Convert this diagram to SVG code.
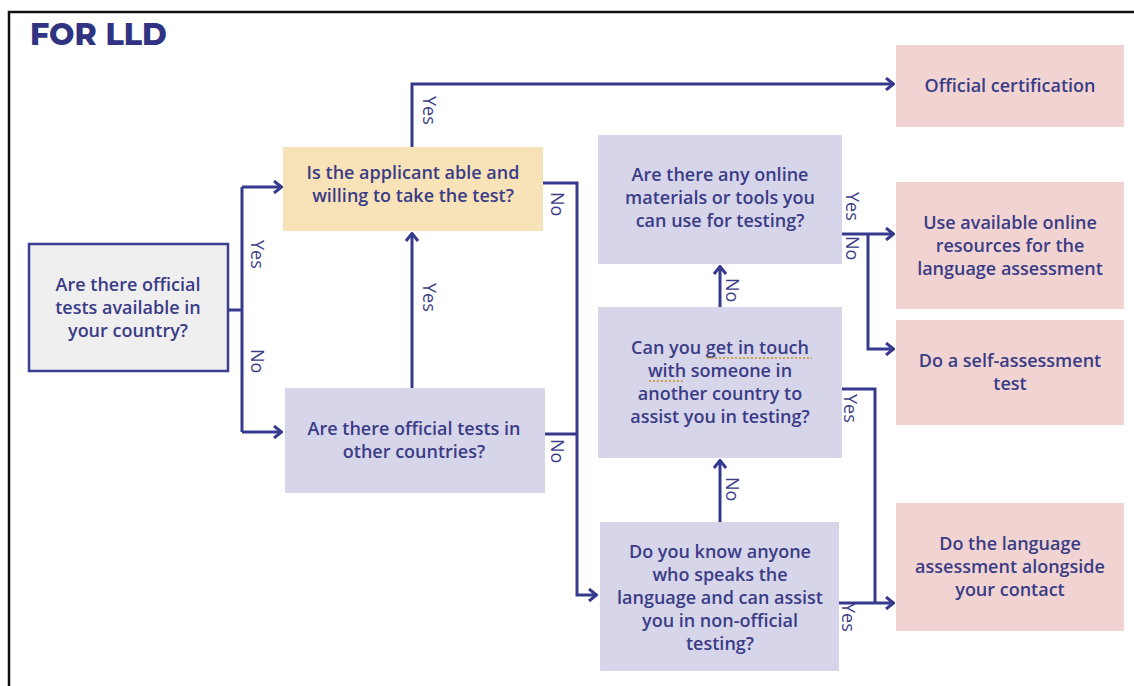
<svg xmlns="http://www.w3.org/2000/svg" width="1134" height="686" viewBox="0 0 1134 686">
<defs>
<style>
.t{font-family:"Open Sans","Liberation Sans",sans-serif;font-weight:600;font-size:18px;fill:#3a3c86;text-anchor:middle}
.lbl{font-family:"Open Sans","Liberation Sans",sans-serif;font-size:18px;fill:#3a3c86}
.c{fill:none;stroke:#363a8e;stroke-width:3}
.q{fill:#d7d5ea}
.r{fill:#f1d4d2}
.sp{stroke:#c9902a;stroke-width:1.5;stroke-dasharray:2 2}
</style>
<marker id="a" viewBox="0 0 12 14" refX="11" refY="7" markerWidth="12" markerHeight="14" markerUnits="userSpaceOnUse" orient="auto">
<path d="M3 1 L10.5 7 L3 13" fill="none" stroke="#363a8e" stroke-width="3"/>
</marker>
</defs>
<rect width="1134" height="686" fill="#fff"/>
<path d="M9 686 V12 H1134" fill="none" stroke="#111" stroke-width="2.5"/>
<text x="30" y="45" font-family="Montserrat,'Open Sans','Liberation Sans',sans-serif" font-weight="800" font-size="30" fill="#2f3381">FOR LLD</text>

<g id="connectors">
<path class="c" d="M229 310 H242"/>
<path class="c" d="M242 187 V432"/>
<path class="c" d="M242 187 H282" marker-end="url(#a)"/>
<path class="c" d="M242 432 H282" marker-end="url(#a)"/>
<path class="c" d="M412 147 V84 H894" marker-end="url(#a)"/>
<path class="c" d="M412 388 V233" marker-end="url(#a)"/>
<path class="c" d="M543 183 H577 V595 H597" marker-end="url(#a)"/>
<path class="c" d="M545 434 H577"/>
<path class="c" d="M720 522 V460" marker-end="url(#a)"/>
<path class="c" d="M720 307 V266" marker-end="url(#a)"/>
<path class="c" d="M842 234 H894" marker-end="url(#a)"/>
<path class="c" d="M868 234 V349 H894" marker-end="url(#a)"/>
<path class="c" d="M842 389 H875 V603"/>
<path class="c" d="M839 603 H894" marker-end="url(#a)"/>
<g class="lbl">
<text transform="translate(251,240) rotate(90)">Yes</text>
<text transform="translate(251,349) rotate(90)">No</text>
<text transform="translate(423,96) rotate(90)">Yes</text>
<text transform="translate(423,283) rotate(90)">Yes</text>
<text transform="translate(551,192) rotate(90)">No</text>
<text transform="translate(551,439) rotate(90)">No</text>
<text transform="translate(726,278) rotate(90)">No</text>
<text transform="translate(726,477) rotate(90)">No</text>
<text transform="translate(846,192) rotate(90)">Yes</text>
<text transform="translate(846,236) rotate(90)">No</text>
<text transform="translate(844,394) rotate(90)">Yes</text>
<text transform="translate(842,603) rotate(90)">Yes</text>
</g>
</g>

<g id="n-country">
<rect x="29" y="244" width="199" height="127" fill="#efeff0" stroke="#3b3f8f" stroke-width="2.5"/>
<text class="t"><tspan x="128" y="291">Are there official</tspan><tspan x="128" y="314">tests available in</tspan><tspan x="128" y="337">your country?</tspan></text>
</g>

<g id="n-able">
<rect x="283" y="147" width="260" height="84" fill="#f8e3b8"/>
<text class="t"><tspan x="413" y="179">Is the applicant able and</tspan><tspan x="413" y="202">willing to take the test?</tspan></text>
</g>

<g id="n-other">
<rect x="285" y="388" width="260" height="105" class="q"/>
<text class="t"><tspan x="414" y="435">Are there official tests in</tspan><tspan x="414" y="458">other countries?</tspan></text>
</g>

<g id="n-online">
<rect x="598" y="135" width="244" height="129" class="q"/>
<text class="t"><tspan x="720" y="181">Are there any online</tspan><tspan x="720" y="204">materials or tools you</tspan><tspan x="720" y="227">can use for testing?</tspan></text>
</g>

<g id="n-touch">
<rect x="598" y="307" width="244" height="151" class="q"/>
<text class="t"><tspan x="720" y="354">Can you get in touch</tspan><tspan x="720" y="377">with someone in</tspan><tspan x="720" y="400">another country to</tspan><tspan x="720" y="423">assist you in testing?</tspan></text>
<line class="sp" x1="707" y1="358" x2="812" y2="358"/>
<line class="sp" x1="649" y1="381" x2="685" y2="381"/>
</g>

<g id="n-know">
<rect x="600" y="522" width="239" height="149" class="q"/>
<text class="t"><tspan x="720" y="558">Do you know anyone</tspan><tspan x="720" y="581">who speaks the</tspan><tspan x="720" y="604">language and can assist</tspan><tspan x="720" y="627">you in non-official</tspan><tspan x="720" y="650">testing?</tspan></text>
</g>

<g id="n-cert">
<rect x="896" y="45" width="228" height="82" class="r"/>
<text class="t" x="1010" y="92">Official certification</text>
</g>

<g id="n-resources">
<rect x="896" y="182" width="228" height="127" class="r"/>
<text class="t"><tspan x="1010" y="229">Use available online</tspan><tspan x="1010" y="252">resources for the</tspan><tspan x="1010" y="275">language assessment</tspan></text>
</g>

<g id="n-self">
<rect x="896" y="320" width="228" height="105" class="r"/>
<text class="t"><tspan x="1010" y="367">Do a self-assessment</tspan><tspan x="1010" y="390">test</tspan></text>
</g>

<g id="n-contact">
<rect x="896" y="503" width="228" height="128" class="r"/>
<text class="t"><tspan x="1010" y="550">Do the language</tspan><tspan x="1010" y="573">assessment alongside</tspan><tspan x="1010" y="596">your contact</tspan></text>
</g>
</svg>
